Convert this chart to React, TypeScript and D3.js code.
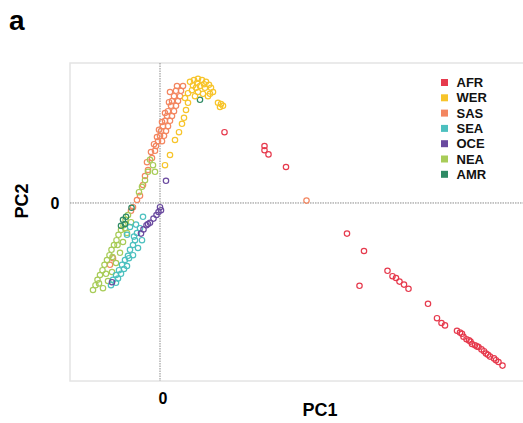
import React, { useEffect, useRef } from 'react'
import * as d3 from 'd3'

// PC scores (x1000)
const AFR: [number, number][] = [
  [12.9, 11.8], [20.9, 9.5], [20.9, 8.8], [21.7, 8.1], [25.2, 6.0], [37.4, -5.1], [40.8, -8.0],
  [39.9, -13.8], [45.5, -11.3], [46.5, -12.2], [47.2, -12.5], [47.9, -13.1], [48.8, -13.6],
  [49.7, -14.3], [53.6, -16.8], [55.4, -19.2], [56.3, -20.0], [57.0, -20.4], [59.4, -21.3],
  [60.0, -21.6], [60.4, -21.8], [60.7, -22.3], [61.3, -22.7], [61.8, -22.9], [62.1, -23.1],
  [62.4, -23.5], [63.0, -23.7], [63.4, -23.9], [63.7, -24.0], [64.3, -24.4], [64.8, -24.7],
  [65.2, -25.1], [65.6, -25.3], [66.0, -25.6], [66.8, -25.9], [67.2, -26.2], [67.7, -26.5],
  [68.5, -27.1]
]
const SAS: [number, number][] = [
  [3.4, 19.5], [4.6, 19.5], [3.2, 18.7], [4.2, 18.7], [2.8, 17.8], [4.0, 17.8], [2.4, 17.0],
  [3.6, 17.0], [2.2, 16.2], [3.2, 16.2], [1.6, 15.3], [2.8, 15.3], [1.4, 14.5], [2.4, 14.5],
  [1.0, 13.7], [2.0, 13.7], [0.6, 12.8], [1.6, 12.8], [0.2, 12.0], [1.2, 12.0], [0.0, 11.2],
  [0.8, 11.2], [-0.4, 10.3], [0.4, 10.3], [-0.8, 9.5], [-1.0, 8.7], [-1.6, 7.5], [-2.4, 5.5],
  [-3.4, 3.0], [-4.0, 1.2], [-4.6, 0.5], [-5.4, -0.7], [-5.8, -1.3], [-9.4, -9.2], [-10.0, -10.3],
  [2.0, 18.5], [1.8, 16.8], [1.0, 15.0], [0.4, 13.5], [-0.2, 12.2], [-0.6, 11.0], [-1.2, 9.8],
  [-1.8, 8.5], [-2.6, 6.8], [-3.0, 4.5], [29.3, 0.4]
]
const NEA: [number, number][] = [
  [-1.4, 6.3], [-2.0, 7.2], [-1.0, 5.2], [-2.4, 5.2], [-3.0, 3.8], [-3.6, 2.7], [-4.2, 1.8],
  [-6.4, -2.0], [-6.9, -2.8], [-7.3, -3.7], [-7.8, -4.5], [-8.3, -5.3], [-8.7, -6.2], [-9.2, -7.0],
  [-9.7, -7.8], [-10.1, -8.7], [-10.6, -9.5], [-11.1, -10.3], [-11.5, -11.2], [-12.0, -12.0],
  [-12.5, -12.8], [-12.9, -13.7], [-13.4, -14.5], [-5.8, -3.2], [-6.6, -5.0], [-7.4, -6.5],
  [-8.0, -8.3], [-8.8, -10.0], [-9.6, -11.5], [-10.4, -13.0], [-11.4, -14.2], [-7.0, -4.2],
  [-8.5, -7.0], [-9.5, -9.0], [-10.8, -11.8], [-12.2, -13.4]
]
const SEA: [number, number][] = [
  [-3.4, -2.3], [-4.0, -4.2], [-4.6, -5.0], [-3.6, -6.2], [-5.0, -6.2], [-5.4, -7.0], [-4.4, -7.5],
  [-6.0, -7.8], [-6.4, -8.8], [-5.4, -8.7], [-7.0, -9.5], [-7.6, -10.3], [-6.6, -10.5],
  [-8.2, -11.2], [-8.8, -12.0], [-7.8, -11.8], [-9.4, -12.8], [-9.8, -13.7], [-8.8, -13.3],
  [-6.0, -4.0], [-6.6, -5.3], [-5.2, -5.6], [-6.2, -9.2], [-7.2, -11.0], [-8.4, -12.6], [-4.8, -3.6]
]
const OCE: [number, number][] = [
  [1.2, 3.7], [0.0, -0.7], [-0.3, -1.5], [0.2, -1.2], [-0.7, -2.0], [-1.3, -2.6], [-2.0, -3.3],
  [-2.7, -3.7], [-3.3, -4.4], [-3.8, -5.1], [-2.4, -3.5], [-9.6, -13.2]
]
const AMR: [number, number][] = [
  [-7.4, -2.8], [-7.0, -3.5], [-7.8, -3.8], [-5.7, -0.8], [-6.8, -2.3], [8.0, 17.2]
]
const WER: [number, number][] = [
  [6.0, 20.2], [6.8, 20.5], [7.6, 20.7], [8.4, 20.5], [9.2, 20.2], [9.8, 19.7], [10.2, 19.2],
  [10.6, 18.5], [9.0, 19.2], [8.0, 19.5], [7.2, 19.2], [6.4, 18.8], [5.6, 18.3], [7.6, 18.5],
  [8.6, 18.2], [9.6, 17.8], [7.0, 17.8], [5.0, 17.5], [5.6, 16.7], [11.6, 16.7], [12.2, 16.5],
  [12.6, 16.2], [12.0, 16.0], [5.2, 15.5], [4.8, 14.2], [4.4, 13.2], [3.8, 11.8], [3.0, 10.5],
  [2.0, 8.0], [1.0, 6.3], [7.4, 20.0], [8.8, 19.8], [10.0, 18.2], [6.6, 19.6]
]

const groups = ['AFR', 'WER', 'SAS', 'SEA', 'OCE', 'NEA', 'AMR']
const groupColors = ['#e63a4d', '#f7c42a', '#f38660', '#4cc0bf', '#6a4a9f', '#a8cc58', '#2e8a64']
const drawOrder: [string, [number, number][]][] = [
  ['AFR', AFR], ['SAS', SAS], ['NEA', NEA], ['SEA', SEA], ['OCE', OCE], ['AMR', AMR], ['WER', WER]
]

const W = 523
const H = 423
const margin = { top: 63, right: 0, bottom: 42, left: 70 }
const font = '"Liberation Sans", Arial, sans-serif'

const App = () => {
  const ref = useRef<SVGSVGElement>(null)

  useEffect(() => {
    const svg = d3.select(ref.current)
    svg.selectAll('*').remove()

    const x = d3.scaleLinear().domain([-18, 72.6]).range([margin.left, W - margin.right])
    const y = d3.scaleLinear().domain([-29.67, 23.33]).range([H - margin.bottom, margin.top])
    const color = d3.scaleOrdinal<string, string>().domain(groups).range(groupColors)

    svg.append('rect').attr('width', W).attr('height', H).attr('fill', '#fff')

    // plot frame
    svg.append('rect')
      .attr('x', margin.left).attr('y', margin.top)
      .attr('width', W - margin.left + 2).attr('height', H - margin.bottom - margin.top)
      .attr('fill', 'none').attr('stroke', '#e4e4e4').attr('stroke-width', 1.5)

    // zero lines
    svg.append('line')
      .attr('x1', x(0)).attr('x2', x(0)).attr('y1', margin.top).attr('y2', H - margin.bottom)
      .attr('stroke', '#8a8a8a').attr('stroke-dasharray', '1.5,1').attr('stroke-width', 1)
    svg.append('line')
      .attr('x1', margin.left).attr('x2', W).attr('y1', y(0)).attr('y2', y(0))
      .attr('stroke', '#8a8a8a').attr('stroke-dasharray', '1.5,1').attr('stroke-width', 1)

    // points
    drawOrder.forEach(([name, pts]) => {
      svg.append('g')
        .selectAll('circle')
        .data(pts)
        .join('circle')
        .attr('cx', d => x(d[0]))
        .attr('cy', d => y(d[1]))
        .attr('r', 2.7)
        .attr('fill', 'none')
        .attr('stroke', color(name))
        .attr('stroke-width', 1.2)
    })

    // legend
    const legend = svg.append('g').attr('transform', 'translate(441,82.5)')
    const rows = legend.selectAll('g').data(groups).join('g')
      .attr('transform', (_d, i) => `translate(0,${i * 15.3})`)
    rows.append('rect').attr('x', 0).attr('y', -3.5).attr('width', 7).attr('height', 7)
      .attr('fill', d => color(d))
    rows.append('text').attr('x', 15.5).attr('y', 0).attr('dy', '0.35em')
      .attr('font-family', font).attr('font-weight', 'bold').attr('font-size', 13)
      .attr('fill', '#111').text(d => d)

    // axis labels
    svg.append('text').attr('x', x(0) + 3).attr('y', 404).attr('text-anchor', 'middle')
      .attr('font-family', font).attr('font-weight', 'bold').attr('font-size', 16).text('0')
    svg.append('text').attr('x', 55).attr('y', y(0)).attr('dy', '0.36em').attr('text-anchor', 'middle')
      .attr('font-family', font).attr('font-weight', 'bold').attr('font-size', 16).text('0')
    svg.append('text').attr('x', 320).attr('y', 416).attr('text-anchor', 'middle')
      .attr('font-family', font).attr('font-weight', 'bold').attr('font-size', 18).text('PC1')
    svg.append('text').attr('transform', `translate(28,${y(0) - 2}) rotate(-90)`).attr('text-anchor', 'middle')
      .attr('font-family', font).attr('font-weight', 'bold').attr('font-size', 18).text('PC2')
    svg.append('text').attr('x', 9).attr('y', 30)
      .attr('font-family', font).attr('font-weight', 'bold').attr('font-size', 28).text('a')
  }, [])

  return (
    <svg ref={ref} width={W} height={H} style={{ position: 'absolute', left: 0, top: 0, display: 'block' }} />
  )
}

export default App
